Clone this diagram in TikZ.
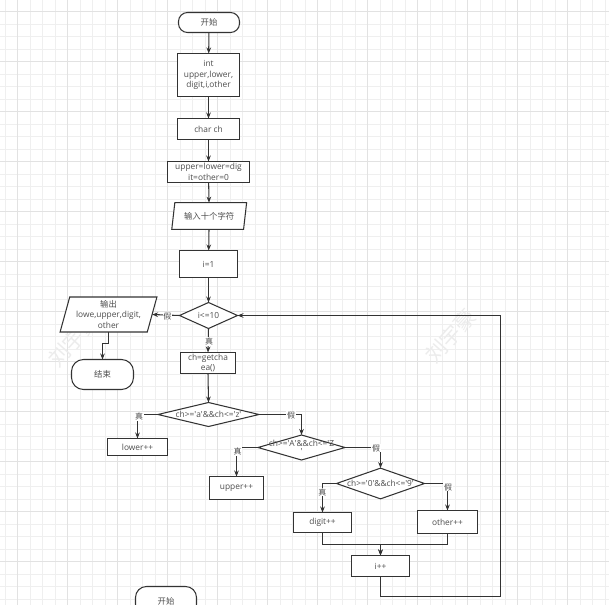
\documentclass[tikz,border=0pt]{standalone}
\usepackage{fontspec}
\setmainfont{Open Sans}
\newfontfamily\cjk{Noto Sans CJK SC}
\usetikzlibrary{shapes.geometric,arrows.meta}
\definecolor{lc}{HTML}{333333}
\definecolor{tc}{HTML}{4D4D4D}
\definecolor{gmin}{HTML}{EFEFEF}
\definecolor{gmaj}{HTML}{E2E2E2}
\definecolor{wmc}{HTML}{ECECEC}
\newcommand\myq{\textquotesingle}
\begin{document}
\begin{tikzpicture}[x=1bp,y=-1bp,
  base/.style={draw=lc,line width=1.05bp,fill=white,text=tc,font=\fontsize{8.4}{10.5}\selectfont,align=center,inner sep=0pt,outer sep=0pt},
  proc/.style={base,rectangle},
  term/.style={base,rectangle,rounded corners=9bp},
  io/.style={base,trapezium,trapezium left angle=74,trapezium right angle=106,trapezium stretches=true},
  dec/.style={base,diamond},
  ln/.style={draw=lc,line width=1.05bp},
  arr/.style={ln,-{Stealth[length=6bp,width=4.6bp]}},
  lab/.style={fill=white,text=tc,font=\cjk\fontsize{8}{9}\selectfont,inner sep=0.6pt},
  wm/.style={text=wmc,font=\cjk\fontsize{21}{21}\selectfont,rotate=48}]
\useasboundingbox (0,0) rectangle (609,605);
\clip (0,0) rectangle (609,605);
\fill[white] (0,0) rectangle (609,605);
% grid
\foreach \i in {0,...,48} {\draw[gmin,line width=0.8bp] (5+12.5*\i,0) -- (5+12.5*\i,605);}
\foreach \i in {0,...,49} {\draw[gmin,line width=0.8bp] (0,-0.8+12.5*\i) -- (609,-0.8+12.5*\i);}
\foreach \i in {0,...,11} {\draw[gmaj,line width=1bp] (17.5+50*\i,0) -- (17.5+50*\i,605);}
\foreach \i in {0,...,11} {\draw[gmaj,line width=1bp] (0,11.7+50*\i) -- (609,11.7+50*\i);}
% watermarks
\node[wm] (wm1) at (451,336) {刘宇豪};
\node[wm] (wm2) at (74,340) {刘宇豪};
% nodes
\node[term,minimum width=61bp,minimum height=20bp] (start) at (209,22.5) {\cjk 开始};
\node[proc,minimum width=62bp,minimum height=43bp] (decl) at (208.5,75) {int\\upper,lower,\\digit,i,other};
\node[proc,minimum width=62bp,minimum height=21bp] (charch) at (208.5,129) {char ch};
\node[proc,minimum width=82bp,minimum height=21bp] (init) at (208.5,172) {upper=lower=dig\\it=other=0};
\node[io,minimum width=75bp,minimum height=26.6bp] (input) at (209.2,216) {\cjk 输入十个字符};
\node[proc,minimum width=58bp,minimum height=27bp] (i1) at (208.5,264) {i=1};
\node[dec,minimum width=58bp,minimum height=26bp] (cond) at (208.5,315.5) {\makebox[0pt]{i<=10}};
\node[io,minimum width=97bp,minimum height=35bp] (out) at (108.5,314.5) {{\cjk 输出}\\lowe,upper,digit,\\other};
\node[term,minimum width=62bp,minimum height=30bp,rounded corners=12bp] (end) at (102.5,374.5) {\cjk 结束};
\node[proc,minimum width=55bp,minimum height=21bp] (getch) at (208,363) {ch=getcha\\ea()};
\node[dec,minimum width=101bp,minimum height=24bp] (d1) at (208.5,414.5) {\makebox[0pt]{ch>=\myq a\myq\&\&ch<=\myq z\myq}};
\node[proc,minimum width=60bp,minimum height=17bp] (lower) at (137.5,447) {lower++};
\node[dec,minimum width=87bp,minimum height=25bp] (d2) at (301.5,447.5) {\makebox[0pt]{ch>=\myq A\myq\&\&ch<=\myq Z}\\[-2pt]\makebox[0pt]{\myq}};
\node[proc,minimum width=54bp,minimum height=23bp] (upper) at (236.5,488) {upper++};
\node[dec,minimum width=88bp,minimum height=30.7bp] (d3) at (380.5,483.5) {\makebox[0pt]{ch>=\myq 0\myq\&\&ch<=\myq 9\myq}};
\node[proc,minimum width=58bp,minimum height=20bp] (digit) at (322.5,522.5) {digit++};
\node[proc,minimum width=60bp,minimum height=23bp] (other) at (447.5,522) {other++};
\node[proc,minimum width=58bp,minimum height=21bp] (inc) at (380.5,566) {i++};
\node[term,minimum width=61bp,minimum height=29bp,rounded corners=11bp] (start2) at (166,601) {\cjk 开始};
\coordinate (lb) at (500.5,596.5);
% connectors
\draw[arr] (start) -- (decl);
\draw[arr] (decl) -- (charch);
\draw[arr] (charch) -- (init);
\draw[arr] (init) -- (input);
\draw[arr] (input) -- (i1);
\draw[arr] (i1) -- (cond);
\draw[arr] (cond.west) -- (out.east);
\draw[arr] (cond.south) -- (getch.north);
\draw[arr] (out.south) -- ++(0,11.5) -| (end.north);
\draw[arr] (getch.south) -- (d1.north);
\draw[arr] (d1.west) -| (lower.north);
\draw[arr] (d1.east) -| (d2.north);
\draw[arr] (d2.west) -| (upper.north);
\draw[arr] (d2.east) -| (d3.north);
\draw[arr] (d3.west) -| (digit.north);
\draw[arr] (d3.east) -| (other.north);
\draw[arr] (digit.south) -- ++(0,12) -| (inc.north);
\draw[arr] (other.south) -- ++(0,11) -| (inc.north);
\draw[arr] (inc.south) |- (lb) |- (cond.east);
% labels
\node[lab] (l1) at (167.3,316) {假};
\node[lab] (l2) at (209,341.5) {真};
\node[lab] (l3) at (139,416.5) {真};
\node[lab] (l4) at (291,415) {假};
\node[lab] (l5) at (237.7,451.7) {真};
\node[lab] (l6) at (376,448) {假};
\node[lab] (l7) at (322.3,492) {真};
\node[lab] (l8) at (448,487) {假};
\end{tikzpicture}
\end{document}
